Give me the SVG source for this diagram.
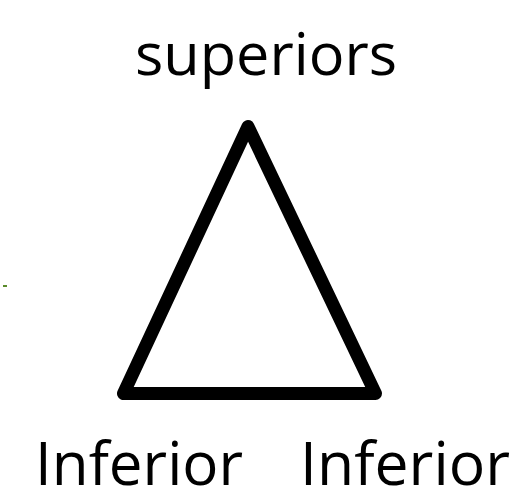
<svg xmlns="http://www.w3.org/2000/svg" width="525" height="491" viewBox="0 0 525 491">
<style>
.lbl{font-family:"Open Sans","Noto Sans","Liberation Sans",sans-serif;fill:#000}
</style>
<rect width="525" height="491" fill="#fff"/>
<g id="connectors"></g>
<g id="triangle">
<polygon points="248,126.5 123.5,393.5 375.5,393.5" fill="none" stroke="#000" stroke-width="13" stroke-linejoin="round"/>
</g>
<g id="superiors"><text class="lbl" x="135" y="75" font-size="58" textLength="262" lengthAdjust="spacingAndGlyphs">superiors</text></g>
<g id="inferior-left"><text class="lbl" x="35" y="485" font-size="61" textLength="208" lengthAdjust="spacingAndGlyphs">Inferior</text></g>
<g id="inferior-right"><text class="lbl" x="300" y="485" font-size="61" textLength="210" lengthAdjust="spacingAndGlyphs">Inferior</text></g>
<rect x="3" y="285" width="4" height="2" fill="#5a8a2a"/>
</svg>
